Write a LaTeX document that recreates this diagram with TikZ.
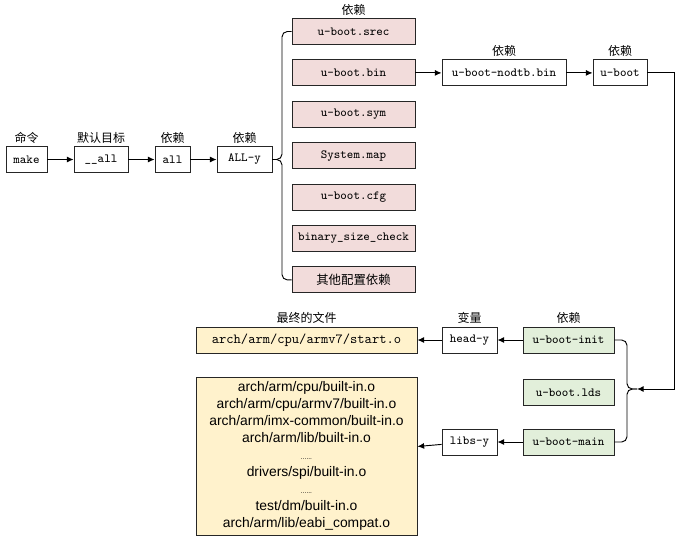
\documentclass[tikz,border=0pt]{standalone}
\usepackage{fontspec}
\newfontfamily\cjk{Noto Sans CJK SC}
\setsansfont{Liberation Sans}
\usetikzlibrary{arrows, arrows.meta, positioning}
\definecolor{pinkfill}{RGB}{242,220,219}
\definecolor{yellowfill}{RGB}{255,242,204}
\definecolor{greenfill}{RGB}{226,239,218}
\tikzset{box/.style = {shape = rectangle, draw = black!85, line width = 0.7pt, minimum height = 19.5pt, inner sep = 1pt, font = \fontsize{9.3}{11}\ttfamily}}
\tikzset{dep/.style = {box, fill = pinkfill, minimum width = 92.25pt}}
\tikzset{obj/.style = {box, fill = greenfill, minimum width = 68.25pt}}
\tikzset{tag/.style = {inner sep = 1pt, font = \cjk\fontsize{9}{10}\selectfont}}
\tikzset{edge/.style = {->, > = {Latex[length = 5pt, width = 4.5pt]}, line width = 0.7pt}}
\tikzset{line/.style = {-, line width = 0.7pt, rounded corners = 4pt}}

\begin{document}
\begin{tikzpicture}[x = 0.75pt, y = -0.75pt]
	\useasboundingbox (0, 0) rectangle (689, 543);

	\node[box, minimum width = 30.75pt] (make) at (26.5, 159.5) {make};
	\node[box, minimum width = 40.5pt] (uall) at (101, 159.5) {\_\_all};
	\node[box, minimum width = 26.25pt] (all) at (172.5, 159.5) {all};
	\node[box, minimum width = 41.25pt] (ally) at (244.5, 159.5) {ALL-y};

	\node[tag, above = 1pt of make] (tmake) {命令};
	\node[tag, above = 1pt of uall] (tuall) {默认目标};
	\node[tag, above = 1pt of all] (tall) {依赖};
	\node[tag, above = 1pt of ally] (tally) {依赖};

	\node[dep] (srec) at (353.5, 31.5) {u-boot.srec};
	\node[dep] (bin) at (353.5, 72.9) {u-boot.bin};
	\node[dep] (sym) at (353.5, 114.3) {u-boot.sym};
	\node[dep] (sysmap) at (353.5, 155.7) {System.map};
	\node[dep] (cfg) at (353.5, 197.1) {u-boot.cfg};
	\node[dep] (sizecheck) at (353.5, 238.5) {binary\_size\_check};
	\node[dep] (other) at (353.5, 279.9) {\cjk 其他配置依赖};
	\node[tag, above = 1pt of srec] (tsrec) {依赖};

	\node[box, minimum width = 93pt] (nodtb) at (504, 72.9) {u-boot-nodtb.bin};
	\node[box, minimum width = 40.5pt] (uboot) at (620, 72.9) {u-boot};
	\node[tag, above = 1pt of nodtb] (tnodtb) {依赖};
	\node[tag, above = 1pt of uboot] (tuboot) {依赖};

	\node[box, fill = yellowfill, minimum width = 165.75pt, font = \fontsize{10.4}{12}\ttfamily] (starto) at (306.5, 340) {arch/arm/cpu/armv7/start.o};
	\node[box, minimum width = 41.25pt] (heady) at (469.5, 340) {head-y};
	\node[obj] (init) at (568.5, 340) {u-boot-init};
	\node[tag, above = 1pt of starto] (tstarto) {最终的文件};
	\node[tag, above = 1pt of heady] (theady) {变量};
	\node[tag, above = 1pt of init] (tinit) {依赖};

	\node[obj] (lds) at (568.5, 392.5) {u-boot.lds};
	\node[obj] (main) at (568.5, 442) {u-boot-main};
	\node[box, minimum width = 41.25pt] (libsy) at (469.5, 442) {libs-y};
	\node[box, fill = yellowfill, minimum width = 165.75pt, minimum height = 118.5pt, align = center, font = \sffamily\fontsize{10.4}{12.75}\selectfont] (objs) at (306.5, 456) {arch/arm/cpu/built-in.o\\
		arch/arm/cpu/armv7/built-in.o\\
		arch/arm/imx-common/built-in.o\\
		arch/arm/lib/built-in.o\\
		{\tiny ......}\\
		drivers/spi/built-in.o\\
		{\tiny ......}\\
		test/dm/built-in.o\\
		arch/arm/lib/eabi\_compat.o};

	\coordinate (cuspa) at (276, 159.5);
	\coordinate (cuspb) at (637, 389);
	\coordinate (corner) at (674, 389);

	\draw[edge] (make) to (uall);
	\draw[edge] (uall) to (all);
	\draw[edge] (all) to (ally);
	\draw[line] (ally.east) -- (cuspa);
	\draw[line] (srec.west) -| (282, 159.5) -- (cuspa);
	\draw[line] (other.west) -| (282, 159.5) -- (cuspa);

	\draw[edge] (bin) to (nodtb);
	\draw[edge] (nodtb) to (uboot);
	\draw[edge] (uboot.east) -| (corner) -- (cuspb);
	\draw[line] (init.east) -| (627, 389) -- (cuspb);
	\draw[line] (main.east) -| (627, 389) -- (cuspb);

	\draw[edge] (init) to (heady);
	\draw[edge] (heady) to (starto);
	\draw[edge] (main) to (libsy);
	\draw[edge] (libsy) to (objs);
\end{tikzpicture}
\end{document}
